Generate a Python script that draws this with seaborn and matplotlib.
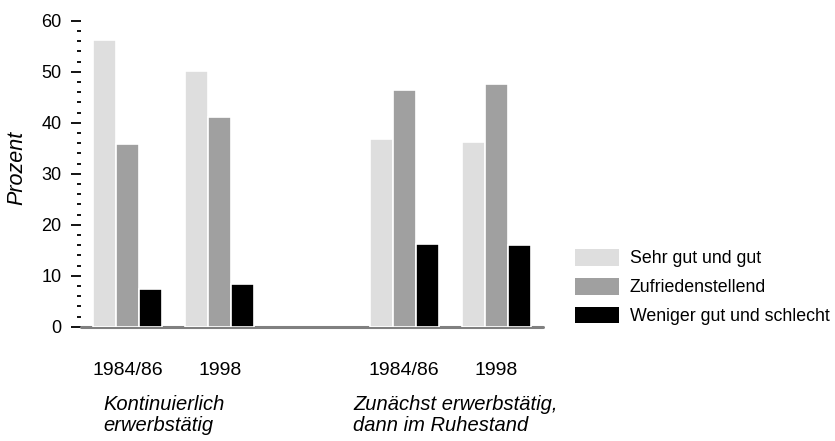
import matplotlib
matplotlib.use("Agg")
import matplotlib.pyplot as plt
from matplotlib.ticker import MultipleLocator
from matplotlib.patches import Patch
import seaborn as sns
import pandas as pd

# ---- data ----
group_keys = ["K1", "K2", "gap", "Z1", "Z2"]
tick_labels = ["1984/86", "1998", "", "1984/86", "1998"]
ratings = ["Sehr gut und gut", "Zufriedenstellend", "Weniger gut und schlecht"]
sehr_gut = [56.3, 50.1, 36.9, 36.2]
zufrieden = [35.8, 41.2, 46.4, 47.5]
weniger = [7.4, 8.4, 16.3, 16.0]
data_groups = ["K1", "K2", "Z1", "Z2"]
group_texts = ["Kontinuierlich\nerwerbstätig", "Zunächst erwerbstätig,\ndann im Ruhestand"]
colors = ["#dedede", "#a0a0a0", "#000000"]

rows = []
for g, a, b, c in zip(data_groups, sehr_gut, zufrieden, weniger):
    rows.append((g, ratings[0], a))
    rows.append((g, ratings[1], b))
    rows.append((g, ratings[2], c))
df = pd.DataFrame(rows, columns=["group", "rating", "value"])

sns.set_style("white")
plt.rcParams["font.family"] = ["Liberation Sans", "DejaVu Sans"]
plt.rcParams["text.color"] = "black"
plt.rcParams["xtick.color"] = "black"
plt.rcParams["ytick.color"] = "black"
plt.rcParams["axes.labelcolor"] = "black"

fig = plt.figure(figsize=(8.35, 4.41), dpi=100)
ax = fig.add_axes([81 / 835, 1 - 326.7 / 441, (543 - 81) / 835, (326.7 - 20.7) / 441])

sns.barplot(data=df, x="group", y="value", hue="rating", order=group_keys,
            hue_order=ratings, palette=colors, width=0.75, dodge=True,
            edgecolor="white", linewidth=1.2, ax=ax, legend=False, zorder=2)

ax.axhline(0, color="#808080", lw=2.2, clip_on=False, zorder=1)

ax.set_xlim(-0.51, 4.51)
ax.set_ylim(0, 60)
for s in ax.spines.values():
    s.set_visible(False)

ax.yaxis.set_major_locator(MultipleLocator(10))
ax.yaxis.set_minor_locator(MultipleLocator(2))
ax.tick_params(axis="y", which="major", left=True, length=7, width=1.3,
               color="black", labelsize=13, pad=7, labelcolor="black")
ax.tick_params(axis="y", which="minor", left=True, length=3, width=1.3, color="black")
ax.set_xticks(range(len(group_keys)))
ax.set_xticklabels(tick_labels)
ax.tick_params(axis="x", length=0, labelsize=14, pad=25.5, labelcolor="black")
ax.set_xlabel("")
ax.set_ylabel("")

fig.text(17 / 835, 1 - 168 / 441, "Prozent", rotation=90, ha="center", va="center",
         fontsize=15.5, style="italic", color="black")

fig.text(103 / 835, 1 - 395 / 441, group_texts[0], ha="left", va="top",
         fontsize=14.5, style="italic", linespacing=1.12, color="black")
fig.text(353 / 835, 1 - 395 / 441, group_texts[1], ha="left", va="top",
         fontsize=14.5, style="italic", linespacing=1.12, color="black")

handles = [Patch(facecolor=c, edgecolor="none") for c in colors]
fig.legend(handles, ratings, loc="upper left",
           bbox_to_anchor=(575 / 835, 1 - 249 / 441), frameon=False,
           fontsize=12.8, handlelength=2.45, handleheight=1.08,
           labelspacing=0.58, handletextpad=0.62, borderpad=0, borderaxespad=0)

fig.savefig("out.png", dpi=100)
